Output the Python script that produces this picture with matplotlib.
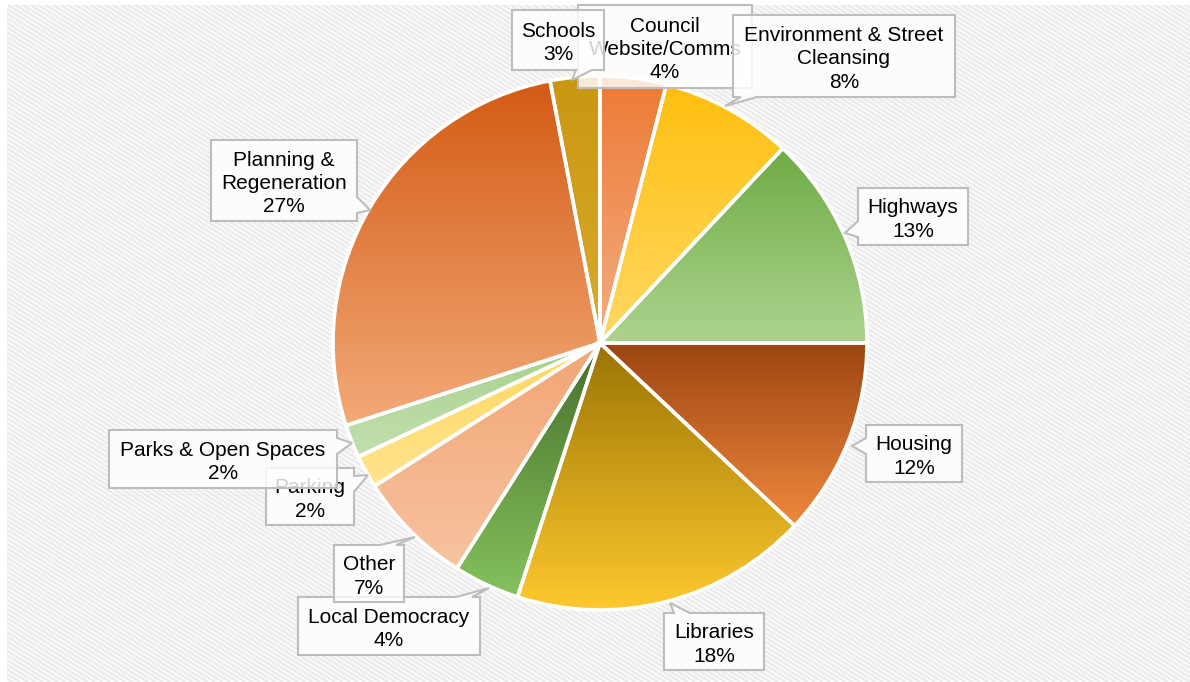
import numpy as np
import matplotlib.pyplot as plt
from matplotlib.patches import Polygon, Rectangle
from matplotlib.collections import LineCollection
from matplotlib.colors import to_rgb

plt.rcParams['font.family'] = ['Liberation Sans', 'DejaVu Sans']

# --- datos ---
categories = ['Council\nWebsite/Comms', 'Environment & Street\nCleansing', 'Highways',
              'Housing', 'Libraries', 'Local Democracy', 'Other', 'Parking',
              'Parks & Open Spaces', 'Planning &\nRegeneration', 'Schools']
percent = [4, 8, 13, 12, 18, 4, 7, 2, 2, 27, 3]

top_colors = ['#ec7a35', '#ffbf0f', '#6fac45', '#9c4510', '#9a7404', '#466f2b',
              '#f2a574', '#ffd75e', '#a6d08a', '#d35b15', '#c99710']
bottom_colors = ['#f4ad82', '#ffd863', '#acd38f', '#f0893f', '#ffc92e', '#85c25d',
                 '#f7c3a0', '#ffe48f', '#c3e0b0', '#f3aa78', '#d8aa30']

# cajas de etiquetas: (izq, arriba, der, abajo) en píxeles, punta del puntero, lado
boxes = [(578, 5, 752, 88), (733, 15, 955, 97), (858, 188, 968, 245),
         (866, 425, 962, 482), (664, 613, 764, 670), (298, 597, 480, 655),
         (334, 545, 404, 602), (266, 468, 354, 525), (109, 430, 337, 488),
         (211, 140, 357, 221), (512, 10, 604, 70)]
tips = [None, (725, 106), (845, 233), (852, 446), (670, 603), (489, 588),
        (415, 537), (368, 475), (352, 443), (370, 210), (572, 80)]
sides = [None, 'bottom', 'left', 'left', 'top', 'top', 'top', 'right', 'right',
         'right', 'bottom']

W, H = 1190, 682
cx, cy, R = 600, 343, 267

fig = plt.figure(figsize=[W / 100, H / 100], dpi=100)
ax = fig.add_axes([0, 0, 1, 1])

# fondo rayado (rayas diagonales finas)
bg = Rectangle((7, 0), W - 7, H - 5, facecolor='#fbfbfb', lw=0, zorder=0)
ax.add_patch(bg)
slope = 0.62
segs = []
for x0 in np.arange(-1200, W + 10, 7.5):
    segs.append([(x0, H), (x0 + H / slope, 0)])
lc = LineCollection(segs, colors='#ebebeb', linewidths=1.6, zorder=0.5)
ax.add_collection(lc)
lc.set_clip_path(bg)

wedges, _ = ax.pie(percent, center=(cx, H - cy), radius=R, startangle=90,
                   counterclock=False, frame=True,
                   wedgeprops=dict(edgecolor='white', linewidth=2.6))

# degradado vertical en cada sector
for w, c_top, c_bot in zip(wedges, top_colors, bottom_colors):
    ext = w.get_path().get_extents()
    t = np.linspace(0, 1, 256)[:, None, None]
    grad = np.array(to_rgb(c_bot))[None, None, :] * (1 - t) + np.array(to_rgb(c_top))[None, None, :] * t
    im = ax.imshow(grad, extent=[ext.x0, ext.x1, ext.y0, ext.y1], origin='lower',
                   aspect='auto', zorder=1, interpolation='bilinear')
    im.set_clip_path(w)
    w.set_facecolor('none')
    w.set_zorder(2)


def callout(box, tip, side, bw=16):
    l, t, r, b = box
    if tip is None:
        pts = [(l, t), (r, t), (r, b), (l, b)]
    else:
        tx, ty = tip
        if side == 'top':
            c = min(max(tx + 12, l + bw), r - bw)
            pts = [(l, t), (c - bw / 2, t), (tx, ty), (c + bw / 2, t), (r, t), (r, b), (l, b)]
        elif side == 'bottom':
            c = min(max(tx + 12, l + bw), r - bw)
            pts = [(l, t), (r, t), (r, b), (c + bw / 2, b), (tx, ty), (c - bw / 2, b), (l, b)]
        elif side == 'left':
            c = min(max(ty, t + bw), b - bw)
            pts = [(l, t), (r, t), (r, b), (l, b), (l, c + bw / 2), (tx, ty), (l, c - bw / 2)]
        else:
            c = min(max(ty, t + bw), b - bw)
            pts = [(l, t), (r, t), (r, c - bw / 2), (tx, ty), (r, c + bw / 2), (r, b), (l, b)]
    return [(x, H - y) for x, y in pts]


for i, (lab, p) in enumerate(zip(categories, percent)):
    poly = Polygon(callout(boxes[i], tips[i], sides[i]), closed=True,
                   facecolor=(1, 1, 1, 0.82), edgecolor='#bdbdbd', lw=1.5,
                   zorder=5 + 2 * i)
    ax.add_patch(poly)
    l, t, r, b = boxes[i]
    ax.text((l + r) / 2, H - (t + b) / 2 - 3, f'{lab}\n{p}%', ha='center', va='center',
            fontsize=15, color='black', linespacing=1.3, zorder=6 + 2 * i)

ax.set_xlim(0, W)
ax.set_ylim(0, H)
ax.set_aspect('equal')
ax.axis('off')

plt.savefig('out.png', dpi=100)
